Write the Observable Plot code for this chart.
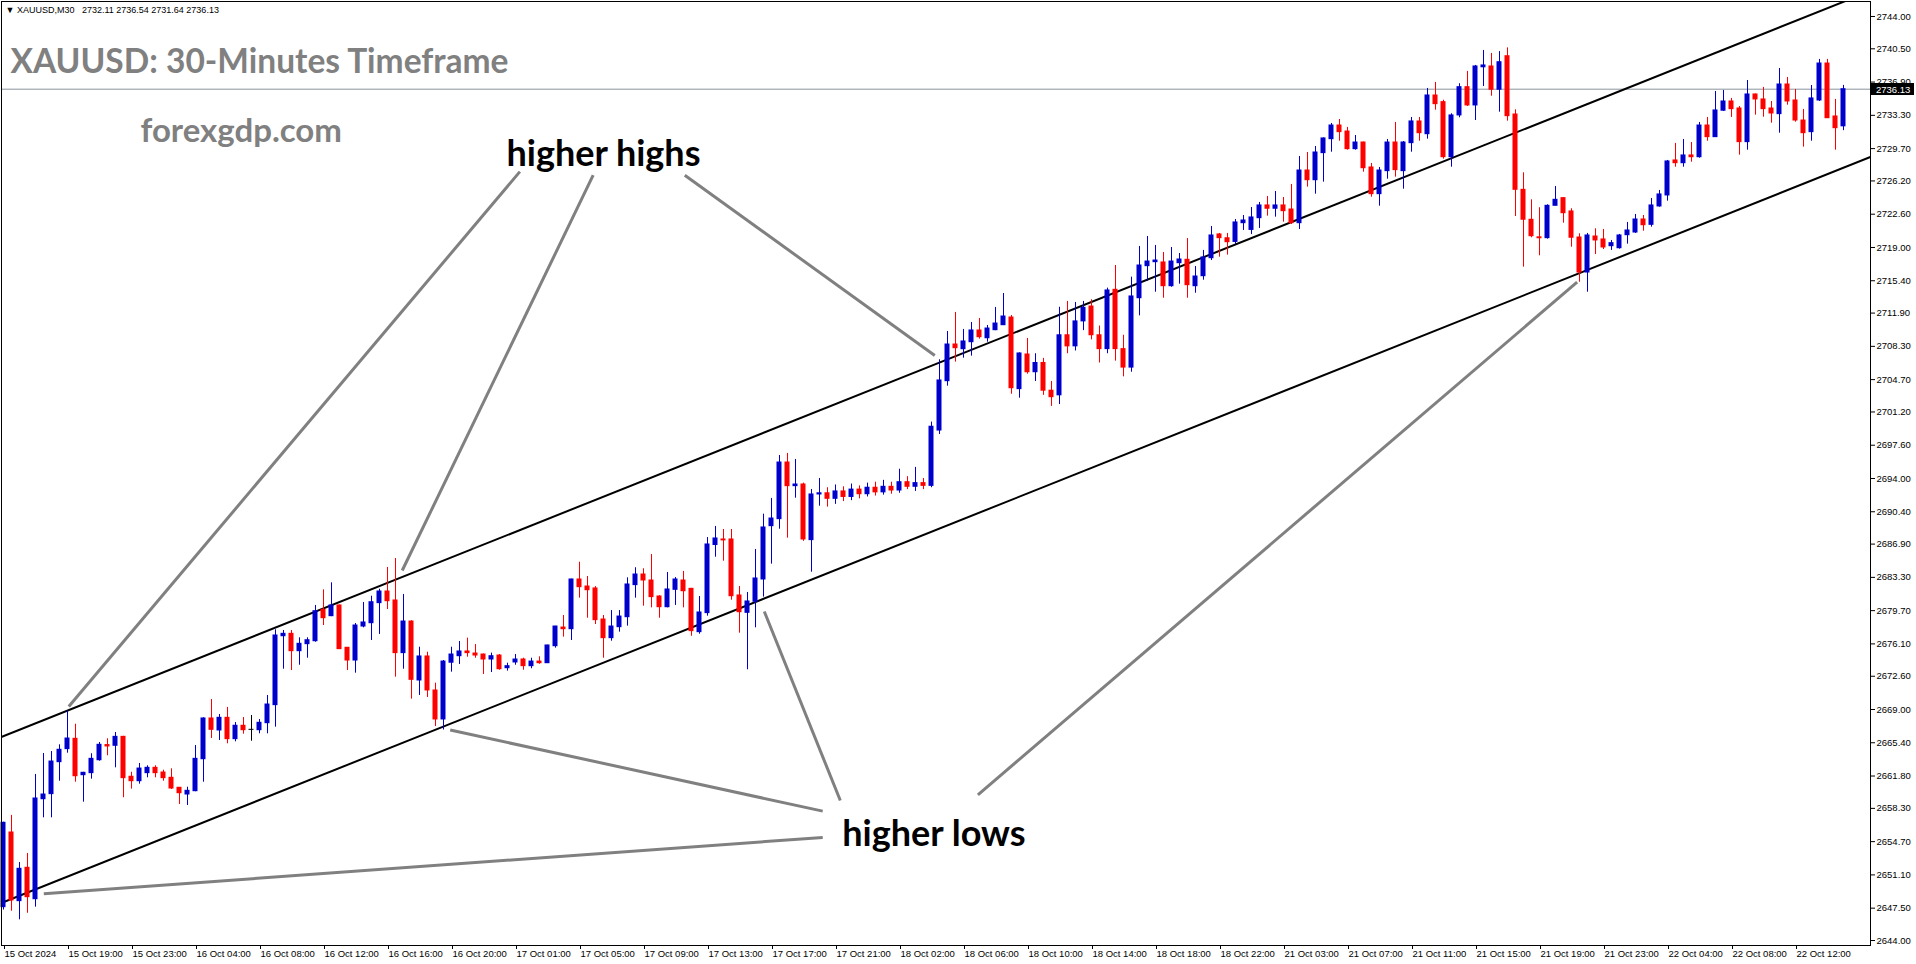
<!DOCTYPE html>
<html><head><meta charset="utf-8">
<script src="https://cdn.jsdelivr.net/npm/d3@7"></script>
<script src="https://cdn.jsdelivr.net/npm/@observablehq/plot@0.6"></script>
<style>html,body{margin:0;padding:0;background:#fff;overflow:hidden}svg{display:block}</style>
</head><body><div id="chart"></div>
<script>
// ---- data: XAUUSD M30 candles (index 0 = 15 Oct 2024 15:00) ----
const opens = [
2647.61,2655.69,2648.26,2651.87,2648.47,2659.29,2659.84,2663.30,2664.71,2665.83,
2661.89,2662.11,2663.51,2665.15,2665.07,2666.04,2661.72,2661.24,2662.11,2662.69,
2662.18,2661.61,2660.53,2659.80,2660.16,2663.62,2668.03,2666.73,2668.10,2665.79,
2667.24,2666.80,2666.76,2667.52,2669.47,2676.93,2677.19,2675.31,2676.07,2676.39,
2679.79,2679.10,2680.26,2675.68,2674.30,2677.98,2678.34,2680.51,2681.77,2680.80,
2675.10,2678.52,2672.14,2674.74,2671.06,2667.92,2674.06,2674.77,2675.28,2675.06,
2674.95,2674.41,2674.84,2673.47,2674.09,2674.41,2673.69,2674.19,2674.01,2675.85,
2677.87,2677.69,2683.07,2682.31,2682.10,2678.74,2676.72,2677.91,2678.99,2682.46,
2683.61,2682.96,2681.23,2680.07,2681.95,2682.96,2682.06,2677.37,2679.43,2686.80,
2687.40,2687.40,2681.34,2679.46,2680.66,2683.07,2688.84,2689.60,2695.73,2693.17,
2693.35,2687.33,2692.27,2692.40,2691.80,2692.60,2692.00,2692.80,2692.30,2693.00,
2692.50,2693.10,2692.70,2693.60,2693.10,2693.50,2693.20,2699.19,2704.53,2708.50,
2707.99,2708.75,2710.02,2709.18,2710.05,2710.59,2711.42,2703.67,2707.42,2705.50,
2706.50,2703.50,2703.00,2709.50,2708.30,2711.00,2712.61,2709.50,2708.00,2714.42,
2708.00,2706.00,2713.51,2716.98,2717.41,2717.38,2714.81,2717.30,2717.67,2714.81,
2715.89,2717.84,2720.41,2720.00,2719.60,2721.63,2720.90,2722.17,2723.55,2723.19,
2723.55,2723.11,2721.63,2727.33,2726.28,2729.21,2730.72,2732.20,2731.55,2729.64,
2730.36,2727.66,2724.77,2727.26,2730.36,2727.26,2730.29,2732.64,2731.26,2735.45,
2734.73,2728.77,2733.29,2736.35,2734.37,2738.50,2738.59,2736.07,2739.70,2733.39,
2725.24,2722.00,2720.10,2720.01,2723.51,2724.34,2722.90,2720.08,2716.29,2720.19,
2719.87,2719.14,2718.92,2720.33,2720.62,2722.03,2721.45,2723.44,2724.63,2728.42,
2728.12,2728.96,2728.77,2732.20,2730.94,2733.80,2734.80,2734.04,2730.40,2735.56,
2735.02,2734.04,2733.43,2736.64,2734.91,2732.74,2731.48,2734.91,2738.91,2733.18,
2732.11];
const highs = [
2656.80,2657.54,2652.44,2653.42,2661.97,2664.24,2664.45,2665.18,2668.82,2667.41,
2662.20,2664.21,2665.43,2665.83,2666.51,2666.10,2662.21,2663.16,2662.91,2662.91,
2662.43,2662.58,2660.53,2660.59,2665.10,2668.10,2670.08,2668.46,2669.22,2667.59,
2668.13,2668.35,2667.92,2670.52,2677.63,2677.55,2677.55,2676.76,2676.76,2680.26,
2681.95,2682.71,2680.30,2675.70,2678.31,2680.58,2681.26,2682.02,2684.37,2685.34,
2681.45,2678.60,2675.74,2675.20,2671.85,2674.30,2675.74,2676.36,2676.72,2676.03,
2675.00,2675.10,2674.95,2674.01,2674.95,2674.55,2674.55,2674.70,2675.95,2678.00,
2679.17,2683.10,2684.94,2683.39,2682.30,2679.17,2679.71,2679.71,2683.25,2684.34,
2684.23,2685.77,2681.30,2683.83,2683.28,2683.94,2682.10,2681.23,2687.61,2688.81,
2688.48,2688.48,2682.31,2681.66,2686.32,2690.14,2691.84,2696.49,2696.71,2696.06,
2693.50,2692.81,2694.00,2693.00,2693.30,2693.10,2693.40,2693.20,2693.50,2693.60,
2693.80,2693.60,2695.00,2694.20,2695.20,2694.00,2700.10,2706.85,2709.91,2711.97,
2710.13,2710.88,2711.32,2710.56,2712.51,2714.02,2711.64,2707.60,2709.15,2707.50,
2707.00,2704.50,2712.53,2713.16,2713.05,2713.16,2713.34,2710.50,2714.60,2717.05,
2709.50,2715.79,2719.11,2720.19,2719.22,2718.46,2719.00,2718.35,2719.97,2716.94,
2718.68,2721.27,2720.52,2720.52,2722.03,2722.46,2723.33,2723.87,2724.52,2725.06,
2724.41,2725.82,2728.85,2729.28,2729.93,2730.85,2732.42,2732.85,2731.99,2731.12,
2730.40,2728.09,2727.66,2730.69,2732.53,2730.47,2733.07,2733.07,2736.21,2736.86,
2734.94,2733.47,2736.72,2738.05,2738.70,2740.32,2740.00,2740.20,2740.60,2733.90,
2727.08,2724.16,2723.30,2723.62,2725.60,2724.40,2723.19,2720.48,2720.52,2721.02,
2720.95,2719.76,2720.41,2721.71,2722.57,2722.46,2724.30,2725.17,2728.42,2730.26,
2730.69,2730.36,2732.53,2733.07,2735.88,2735.99,2735.13,2734.26,2737.07,2735.60,
2736.32,2734.80,2738.37,2737.40,2736.10,2733.94,2736.53,2739.35,2739.35,2735.02,
2736.54];
const lows = [
2647.30,2647.17,2646.24,2646.95,2647.61,2657.28,2657.28,2661.24,2664.27,2661.13,
2658.97,2661.46,2663.41,2663.99,2662.69,2659.45,2660.38,2660.92,2661.61,2661.61,
2661.24,2660.34,2658.72,2658.61,2660.10,2661.13,2665.86,2665.65,2665.29,2665.50,
2666.33,2665.57,2666.37,2666.37,2667.09,2673.36,2673.22,2673.79,2674.55,2676.28,
2678.09,2679.05,2675.50,2673.22,2672.93,2677.84,2676.47,2677.12,2679.82,2672.50,
2673.36,2670.12,2670.52,2670.30,2667.16,2666.78,2673.04,2673.87,2674.66,2674.55,
2672.79,2673.00,2673.25,2673.15,2673.79,2673.25,2673.41,2673.90,2674.00,2675.64,
2676.83,2676.47,2681.05,2678.88,2678.20,2674.55,2676.39,2677.37,2678.02,2681.05,
2680.18,2680.00,2678.88,2680.00,2680.26,2680.00,2676.93,2677.15,2679.10,2685.48,
2685.05,2680.83,2677.26,2673.30,2677.84,2681.16,2684.73,2688.51,2687.54,2691.87,
2687.20,2683.86,2691.00,2690.90,2691.20,2691.50,2691.60,2691.80,2692.00,2692.10,
2692.20,2692.30,2692.40,2692.80,2692.60,2692.80,2693.00,2698.76,2703.99,2706.59,
2707.02,2707.24,2709.08,2708.75,2710.00,2710.55,2703.12,2702.69,2705.29,2704.50,
2703.00,2701.80,2702.00,2707.50,2707.80,2710.00,2709.00,2706.50,2707.50,2706.70,
2705.00,2705.50,2711.60,2715.35,2714.16,2713.51,2714.70,2715.03,2713.51,2714.05,
2715.46,2717.59,2717.95,2718.17,2719.30,2720.84,2720.40,2721.06,2722.39,2722.28,
2721.74,2721.49,2720.95,2725.53,2724.77,2726.07,2729.31,2730.50,2729.53,2729.53,
2727.15,2724.44,2723.47,2726.39,2726.61,2725.31,2729.31,2730.50,2730.72,2733.86,
2728.56,2727.69,2733.04,2734.26,2732.74,2736.42,2735.37,2733.64,2732.67,2722.35,
2716.87,2720.05,2718.10,2719.90,2723.50,2721.63,2719.03,2715.24,2714.16,2718.24,
2718.78,2718.68,2718.82,2719.36,2720.52,2720.76,2721.20,2723.36,2724.01,2727.69,
2727.69,2728.23,2728.66,2730.50,2730.90,2733.72,2733.07,2728.99,2729.53,2733.32,
2733.10,2732.45,2731.37,2734.40,2732.56,2729.86,2730.50,2734.80,2733.00,2729.53,
2731.64];
const closes = [
2656.74,2648.33,2651.76,2648.69,2659.37,2659.80,2663.37,2664.64,2665.86,2661.78,
2662.15,2663.66,2665.18,2665.00,2666.04,2661.57,2661.24,2662.61,2662.69,2662.11,
2661.57,2660.45,2659.94,2660.20,2663.66,2668.03,2666.80,2668.10,2665.79,2667.24,
2666.76,2666.80,2667.56,2669.54,2677.01,2677.19,2675.31,2676.11,2676.50,2679.64,
2678.88,2680.26,2675.53,2674.30,2678.09,2678.42,2680.61,2681.77,2680.72,2675.10,
2678.52,2672.21,2674.74,2671.06,2667.92,2674.19,2674.95,2675.28,2675.10,2674.84,
2674.41,2674.77,2673.36,2673.69,2674.41,2673.69,2674.19,2674.01,2675.93,2677.98,
2677.69,2683.07,2682.24,2681.91,2678.67,2676.72,2677.98,2679.06,2682.53,2683.61,
2682.96,2681.16,2680.07,2681.99,2683.07,2681.80,2677.48,2679.50,2686.86,2687.51,
2687.30,2681.26,2679.53,2680.69,2683.18,2688.70,2689.67,2695.73,2693.17,2693.35,
2687.40,2692.27,2692.40,2691.80,2692.60,2692.00,2692.80,2692.30,2693.00,2692.50,
2693.10,2692.70,2693.60,2693.10,2693.50,2693.20,2699.60,2704.61,2708.50,2708.10,
2708.83,2710.02,2709.29,2710.23,2710.77,2711.53,2703.77,2707.53,2705.50,2706.50,
2703.50,2702.80,2709.50,2708.30,2711.00,2712.47,2709.50,2708.00,2714.35,2708.00,
2706.00,2713.70,2717.05,2717.48,2717.59,2714.81,2717.48,2717.70,2714.92,2715.86,
2717.92,2720.30,2720.01,2719.57,2721.71,2721.92,2722.25,2723.55,2723.19,2723.55,
2722.93,2721.63,2727.33,2726.28,2729.28,2730.80,2732.20,2731.48,2729.64,2730.36,
2727.58,2724.77,2727.33,2730.36,2727.37,2730.36,2732.64,2731.37,2735.45,2734.51,
2728.77,2733.29,2736.35,2734.37,2738.59,2738.70,2736.07,2739.05,2733.21,2725.24,
2722.00,2720.22,2720.00,2723.51,2724.16,2722.71,2720.05,2716.29,2720.30,2719.76,
2719.00,2719.47,2720.30,2720.84,2722.03,2721.41,2723.55,2724.74,2728.31,2728.12,
2728.96,2728.77,2732.20,2730.94,2733.83,2734.80,2733.97,2730.40,2735.56,2735.02,
2733.97,2733.50,2736.64,2734.80,2732.74,2731.37,2735.13,2738.91,2732.99,2731.91,
2736.13];

const xLabels = ["15 Oct 2024","15 Oct 19:00","15 Oct 23:00","16 Oct 04:00","16 Oct 08:00","16 Oct 12:00","16 Oct 16:00","16 Oct 20:00","17 Oct 01:00","17 Oct 05:00","17 Oct 09:00","17 Oct 13:00","17 Oct 17:00","17 Oct 21:00","18 Oct 02:00","18 Oct 06:00","18 Oct 10:00","18 Oct 14:00","18 Oct 18:00","18 Oct 22:00","21 Oct 03:00","21 Oct 07:00","21 Oct 11:00","21 Oct 15:00","21 Oct 19:00","21 Oct 23:00","22 Oct 04:00","22 Oct 08:00","22 Oct 12:00"];
const barsPerLabel = 8;
const yTicks = [2744.00,2740.50,2736.90,2733.30,2729.70,2726.20,2722.60,2719.00,2715.40,2711.90,2708.30,2704.70,2701.20,2697.60,2694.00,2690.40,2686.90,2683.30,2679.70,2676.10,2672.60,2669.00,2665.40,2661.80,2658.30,2654.70,2651.10,2647.50,2644.00];
const currentPrice = 2736.13;
const headerText = "\u25BC XAUUSD,M30\u00A0\u00A0 2732.11 2736.54 2731.64 2736.13";
const titleText = "XAUUSD: 30-Minutes Timeframe";
const siteText = "forexgdp.com";

// channel trendlines (bar index, price)
const channelStartIdx = [-1, -1];
const channelStartPrice = [2665.77, 2647.81];
const channelEndIdx = [234, 234];
const channelEndPrice = [2746.97, 2729.01];

// annotation pointer lines
const pointerFromIdx   = [64.55, 73.71, 85.16, 104.6, 102.4, 102.4, 121.8];
const pointerFromPrice = [2727.21, 2726.82, 2726.82, 2659.15, 2658.0, 2655.15, 2659.77];
const pointerToIdx     = [8.16, 49.84, 116.41, 95.1, 55.84, 5.04, 196.7];
const pointerToPrice   = [2669.32, 2684.04, 2707.31, 2679.61, 2666.78, 2649.06, 2715.25];
const annotText  = ["higher highs", "higher lows"];
const annotIdx   = [75.0, 116.3];
const annotPrice = [2729.1, 2655.45];

// ---- build tables ----
const candles = opens.map((o, i) => ({i, o, h: highs[i], l: lows[i], c: closes[i]}));
const colorOf = d => d.c > d.o ? "#0000cd" : d.c < d.o ? "#ff0000" : "#000000";
const channels = channelStartIdx.map((s, k) => ({x1: s, y1: channelStartPrice[k], x2: channelEndIdx[k], y2: channelEndPrice[k]}));
const pointers = pointerFromIdx.map((s, k) => ({x1: s, y1: pointerFromPrice[k], x2: pointerToIdx[k], y2: pointerToPrice[k]}));
const annots = annotText.map((t, k) => ({t, x: annotIdx[k], y: annotPrice[k]}));
const xTickIdx = xLabels.map((_, k) => k * barsPerLabel);

function priceTag(index, scales, values, dims) {
  const y = Math.round(scales.y(currentPrice));
  const x0 = dims.width - dims.marginRight;
  const g = d3.create("svg:g");
  g.append("rect").attr("x", x0 + 1).attr("y", y - 6).attr("width", dims.marginRight - 3).attr("height", 12).attr("fill", "#000");
  g.append("text").attr("x", x0 + 6).attr("y", y + 0.5).attr("dy", "0.35em").attr("text-anchor", "start")
    .attr("fill", "#fff").attr("font-size", "9.5px").attr("font-family", "Liberation Sans, Arial, sans-serif")
    .text(currentPrice.toFixed(2));
  return g.node();
}

const chart = Plot.plot({
  width: 1916, height: 964,
  marginLeft: 1, marginRight: 46, marginTop: 1, marginBottom: 19,
  style: {fontFamily: "Liberation Sans, Arial, sans-serif", fontSize: "9.5px", color: "#000", background: "#fff"},
  x: {domain: [-0.25, 233.375]},
  y: {domain: [2643.46, 2745.62]},
  marks: [
    Plot.ruleY([currentPrice], {stroke: "#8a949e", strokeWidth: 1}),
    Plot.link(channels, {x1: "x1", y1: "y1", x2: "x2", y2: "y2", stroke: "#000", strokeWidth: 2, clip: true}),
    Plot.ruleX(candles, {x: "i", y1: "l", y2: "h", stroke: colorOf, strokeWidth: 1}),
    Plot.rect(candles, {x1: d => d.i - 0.3125, x2: d => d.i + 0.3125, y1: "o", y2: "c", fill: colorOf, insetTop: -0.5, insetBottom: -0.5}),
    Plot.link(pointers, {x1: "x1", y1: "y1", x2: "x2", y2: "y2", stroke: "#808080", strokeWidth: 3}),
    Plot.text(annots, {x: "x", y: "y", text: "t", fontSize: 36, fontWeight: "bold", fontFamily: "Lato", fill: "#000"}),
    Plot.frame({stroke: "#000"}),
    Plot.axisX({ticks: xTickIdx, tickFormat: d => xLabels[Math.round(d / barsPerLabel)], anchor: "bottom", tickSize: 4, tickPadding: 1, textAnchor: "start", dx: 1, label: null}),
    Plot.axisY({ticks: yTicks, tickFormat: d => d.toFixed(2), anchor: "right", tickSize: 4, tickPadding: 2, label: null}),
    priceTag,
    Plot.text([headerText], {frameAnchor: "top-left", dx: 4, dy: 5, fontSize: 9, fill: "#000", lineAnchor: "top", textAnchor: "start"}),
    Plot.text([titleText], {frameAnchor: "top-left", dx: 9, dy: 48, fontSize: 33.5, fontWeight: "bold", fontFamily: "Lato", fill: "#808080", lineAnchor: "top", textAnchor: "start"}),
    Plot.text([siteText], {frameAnchor: "top-left", dx: 139, dy: 117, fontSize: 33, fontWeight: "bold", fontFamily: "Lato", fill: "#808080", lineAnchor: "top", textAnchor: "start"})
  ]
});
document.getElementById("chart").appendChild(chart);
</script>
</body></html>
